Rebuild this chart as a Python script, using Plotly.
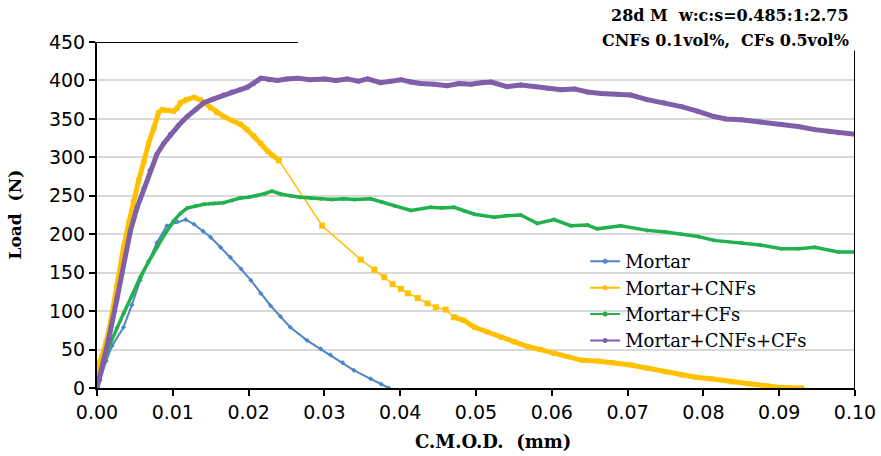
import plotly.graph_objects as go

# Crack mouth opening displacement (mm) vs. load (N), 28-day mortar beams

MORTAR_X = [0, 0.0004, 0.0012, 0.002, 0.0035, 0.0046, 0.0057, 0.0068, 0.0079, 0.0092,
            0.0106, 0.0117, 0.0128, 0.014, 0.015, 0.0163, 0.0176, 0.019, 0.0203, 0.0216,
            0.0229, 0.0242, 0.0255, 0.0277, 0.0295, 0.0308, 0.0324, 0.0339, 0.0361, 0.0375,
            0.0385]
MORTAR_Y = [0, 10, 35, 55, 79, 108, 140, 165, 189, 211,
            216, 219, 213, 204, 196, 183, 170, 155, 140, 123,
            107, 93, 79, 62, 51, 43, 33, 23, 12, 5,
            0]

CNF_X = [0, 0.0001, 0.0006, 0.0012, 0.0018, 0.0026, 0.0035, 0.0042, 0.0048, 0.0055,
         0.0062, 0.0068, 0.0075, 0.0081, 0.0086, 0.0092, 0.0101, 0.0106, 0.011, 0.0118,
         0.0128, 0.0136, 0.0143, 0.015, 0.0158, 0.0167, 0.0178, 0.0189, 0.0198, 0.0207,
         0.0216, 0.0225, 0.0232, 0.024,
         0.0297, 0.0348, 0.0366, 0.0379, 0.039, 0.0401, 0.041, 0.0423, 0.0436, 0.0447,
         0.046, 0.0471, 0.0484, 0.0498, 0.0515, 0.0533, 0.055, 0.0568, 0.0585, 0.0603,
         0.062, 0.064, 0.066, 0.068, 0.0704, 0.0725, 0.075, 0.0771, 0.079, 0.081,
         0.0837, 0.086, 0.0885, 0.0903, 0.093]
CNF_Y = [0, 28, 40, 60, 86, 133, 183, 215, 243, 270,
         295, 318, 338, 358, 362, 361, 360, 364, 371, 375,
         378, 375, 370, 364, 358, 353, 348, 343, 336, 328,
         318, 308, 302, 296,
         211, 167, 154, 144, 135, 129, 123, 117, 110, 105,
         102, 92, 88, 79, 73, 66, 60, 54, 50, 45,
         41, 36, 35, 33, 30, 26, 21, 17, 14, 12,
         8, 5.5, 2.6, 0.5, 0]
# index ranges of the densely sampled parts of the CNF record
CNF_DENSE_1 = (0, 34)
CNF_SPARSE = (33, 46)
CNF_DENSE_2 = (45, len(CNF_X))

CF_X = [0, 0.0004, 0.00088, 0.00176, 0.0026, 0.0035, 0.0046, 0.0057, 0.0068, 0.0079,
        0.009, 0.0101, 0.011, 0.0119, 0.013, 0.0141, 0.0154, 0.0167, 0.0178, 0.0189,
        0.02, 0.0211, 0.0222, 0.0231, 0.0243, 0.0255, 0.0268, 0.0282, 0.0295, 0.031,
        0.0325, 0.034, 0.0361, 0.0376, 0.0392, 0.0414, 0.044, 0.0455, 0.0471, 0.0485,
        0.0498, 0.0524, 0.054, 0.0559, 0.0581, 0.0603, 0.0625, 0.0647, 0.066, 0.0691,
        0.0726, 0.075, 0.0771, 0.0793, 0.0814, 0.085, 0.0875, 0.0903, 0.0925, 0.0947,
        0.0978, 0.1]
CF_Y = [0, 18, 36, 58, 78, 97, 120, 144, 164, 183,
        201, 217, 227, 234, 237, 239, 240, 241, 244, 247,
        248, 250, 253, 256, 252, 250, 248, 247, 246, 245,
        246, 245, 246, 242, 237, 231, 235, 234, 235, 230,
        226, 222, 224, 225, 214, 219, 211, 212, 207, 211,
        205, 203, 200, 197, 192, 189, 186, 181, 181, 183,
        177, 177]

HYB_X = [0, 0.0003, 0.00088, 0.0015, 0.0026, 0.0035, 0.0044, 0.0053, 0.0062, 0.007,
         0.0079, 0.0088, 0.0097, 0.0108, 0.0119, 0.013, 0.0141, 0.0154, 0.0167, 0.0178,
         0.0189, 0.0198, 0.0207, 0.0212, 0.0216, 0.0227, 0.0238, 0.025, 0.0265, 0.028,
         0.03, 0.0315, 0.033, 0.0345, 0.0357, 0.0374, 0.0387, 0.0401, 0.0414, 0.0427,
         0.0445, 0.0462, 0.0478, 0.0493, 0.0507, 0.052, 0.0541, 0.0559, 0.0577, 0.0595,
         0.0612, 0.063, 0.0647, 0.0665, 0.0685, 0.0704, 0.0726, 0.0748, 0.0771, 0.0792,
         0.0814, 0.083, 0.085, 0.0875, 0.0903, 0.0925, 0.0947, 0.0965, 0.0978, 0.1]
HYB_Y = [0, 12, 36, 62, 114, 160, 204, 235, 260, 283,
         304, 318, 330, 342, 353, 362, 371, 376, 381, 385,
         388, 391, 396, 400, 403, 401, 400, 402, 403, 401,
         402, 400, 402, 399, 402, 397, 399, 401, 398, 396,
         395, 393, 396, 395, 397, 398, 392, 394, 392, 390,
         388, 389, 385, 383, 382, 381, 375, 371, 366, 360,
         353, 350, 349, 346, 343, 340, 336, 334, 332, 330]

NAMES = ["Mortar", "Mortar+CNFs", "Mortar+CFs", "Mortar+CNFs+CFs"]
COLORS = ["#4f86c6", "#ffc000", "#22b14c", "#7f5fa8"]
TITLE_LINES = ["28d M  w:c:s=0.485:1:2.75", "CNFs 0.1vol%,  CFs 0.5vol%"]

X_TICKS = [0, 0.01, 0.02, 0.03, 0.04, 0.05, 0.06, 0.07, 0.08, 0.09, 0.10]
Y_TICKS = [0, 50, 100, 150, 200, 250, 300, 350, 400, 450]

fig = go.Figure()


def add_curve(x, y, color, width, msize, symbol="circle"):
    fig.add_trace(go.Scatter(
        x=x, y=y, mode="lines+markers", showlegend=False,
        line=dict(color=color, width=width),
        marker=dict(color=color, size=msize, symbol=symbol),
    ))


add_curve(MORTAR_X, MORTAR_Y, COLORS[0], 2, 4, "diamond")
a, b = CNF_DENSE_1
add_curve(CNF_X[a:b], CNF_Y[a:b], COLORS[1], 5, 5, "square")
a, b = CNF_SPARSE
add_curve(CNF_X[a:b], CNF_Y[a:b], COLORS[1], 1.5, 6, "square")
a, b = CNF_DENSE_2
add_curve(CNF_X[a:b], CNF_Y[a:b], COLORS[1], 5, 5, "square")
add_curve(CF_X, CF_Y, COLORS[2], 3.5, 4)
add_curve(HYB_X, HYB_Y, COLORS[3], 5, 5)

# legend entries
for name, color in zip(NAMES, COLORS):
    fig.add_trace(go.Scatter(
        x=[None], y=[None], mode="lines+markers", name=name,
        line=dict(color=color, width=2),
        marker=dict(color=color, size=5),
    ))

serif = "DejaVu Serif"

fig.update_layout(
    width=881, height=456,
    margin=dict(l=97, r=26, t=41.5, b=68, autoexpand=False),
    paper_bgcolor="white", plot_bgcolor="white",
    showlegend=True,
    legend=dict(
        x=0.644, y=0.419, xanchor="left", yanchor="top",
        bgcolor="rgba(0,0,0,0)", borderwidth=0,
        font=dict(family=serif, size=18, color="black"),
        tracegroupgap=0, itemwidth=30,
    ),
    xaxis=dict(
        range=[0, 0.1], tickvals=X_TICKS,
        ticktext=[f"{v:.2f}" for v in X_TICKS],
        showgrid=False, zeroline=False,
        showline=True, linecolor="black", linewidth=2,
        ticks="outside", ticklen=6, tickwidth=1.5, tickcolor="black",
        tickfont=dict(family="DejaVu Sans", size=19, color="black"),
    ),
    yaxis=dict(
        range=[0, 450], tickvals=Y_TICKS,
        showgrid=True, gridcolor="#d9d9d9", gridwidth=1.5,
        zeroline=False,
        showline=True, linecolor="black", linewidth=2,
        ticks="outside", ticklen=6, tickwidth=1.5, tickcolor="black",
        tickfont=dict(family="DejaVu Sans", size=19, color="black"),
    ),
)

# plot-area border: top edge and right edge, stopping short of the caption
fig.add_shape(type="line", xref="x", yref="y", x0=0, x1=0.0265, y0=450, y1=450,
              line=dict(color="black", width=2))
fig.add_shape(type="line", xref="x", yref="y", x0=0.1, x1=0.1, y0=0, y1=439,
              line=dict(color="black", width=2))

# axis titles
fig.add_annotation(text="<b>Load  (N)</b>", xref="paper", yref="paper",
                   x=-0.108, y=0.502, xanchor="center", yanchor="middle",
                   textangle=-90, showarrow=False,
                   font=dict(family=serif, size=17, color="black"))
fig.add_annotation(text="<b>C.M.O.D.  (mm)</b>", xref="paper", yref="paper",
                   x=0.522, y=-0.156, xanchor="center", yanchor="middle",
                   showarrow=False,
                   font=dict(family=serif, size=18, color="black"))

# caption in the top-right corner
for line, yp in zip(TITLE_LINES, [1.077, 1.005]):
    fig.add_annotation(text=f"<b>{line}</b>", xref="paper", yref="paper",
                       x=0.9947, y=yp, xanchor="right", yanchor="middle",
                       showarrow=False,
                       font=dict(family=serif, size=16, color="black"))

fig.write_html("out.html")
